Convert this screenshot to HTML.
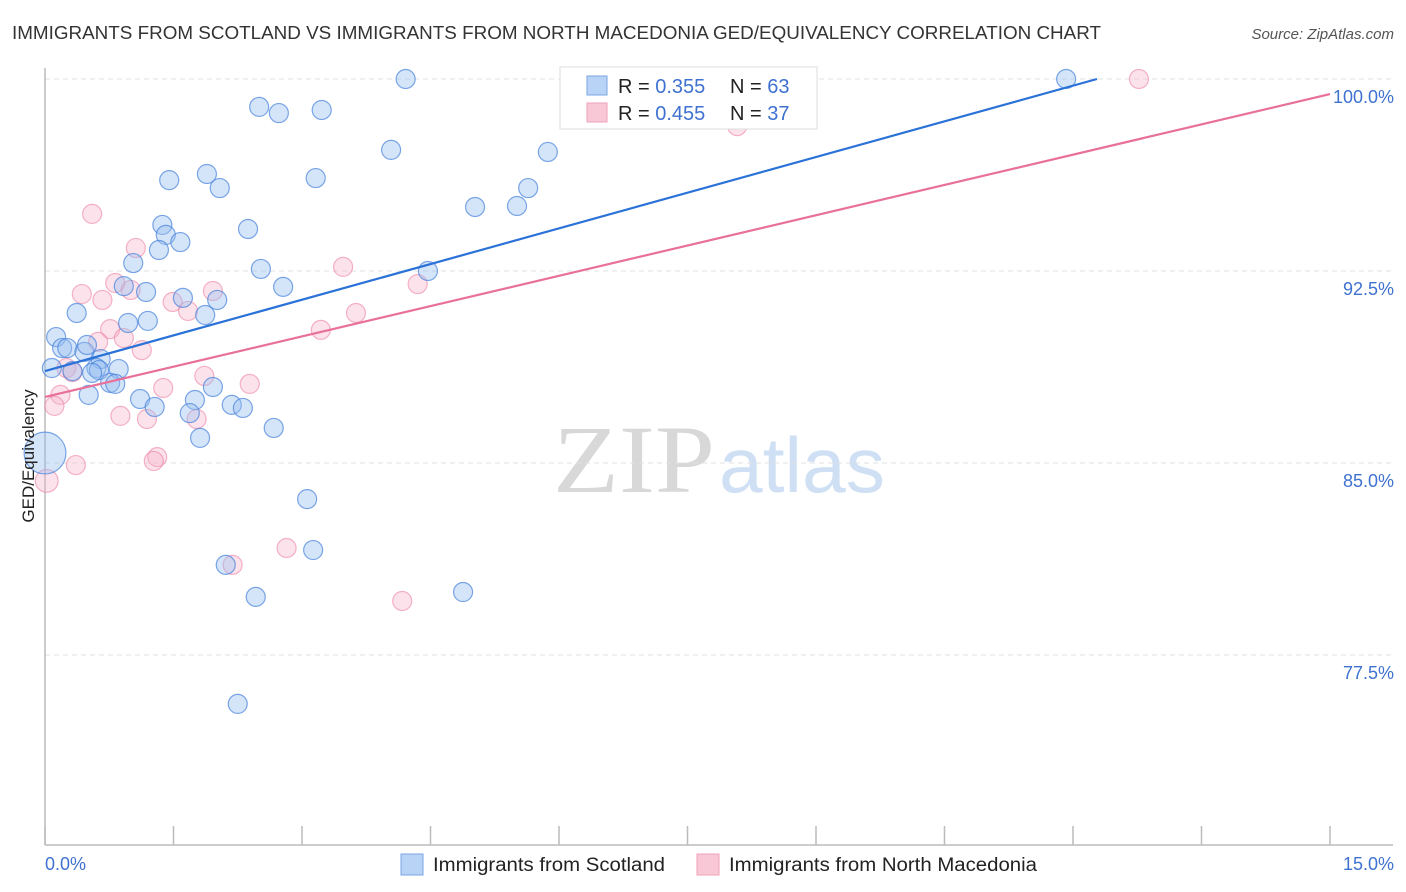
<!DOCTYPE html>
<html><head><meta charset="utf-8">
<style>
body{margin:0;background:#fff;font-family:"Liberation Sans",sans-serif;}
svg{display:block}
</style></head>
<body>
<svg id="chart" width="1406" height="892" xmlns="http://www.w3.org/2000/svg">
<text x="12" y="39" font-size="18" fill="#333" textLength="1089" lengthAdjust="spacingAndGlyphs">IMMIGRANTS FROM SCOTLAND VS IMMIGRANTS FROM NORTH MACEDONIA GED/EQUIVALENCY CORRELATION CHART</text>
<text x="1394" y="39" font-size="15" fill="#555" font-style="italic" text-anchor="end">Source: ZipAtlas.com</text>
<g>
<text x="553" y="492" font-family="Liberation Serif,serif" font-size="96" fill="#d8d8d8" textLength="162" lengthAdjust="spacingAndGlyphs">ZIP</text>
<text x="719" y="492" font-size="78" fill="#cfe0f4" textLength="166" lengthAdjust="spacingAndGlyphs">atlas</text>
</g>
<g id="grid"></g>
<g id="axes"></g>
<g id="marks"></g>
<text transform="translate(34,456) rotate(-90)" font-size="17" fill="#222" text-anchor="middle">GED/Equivalency</text>
<text x="45" y="870" font-size="18" fill="#3f72d0">0.0%</text>
<text x="1394" y="870" font-size="18" fill="#3f72d0" text-anchor="end">15.0%</text>
<g>
<rect x="560" y="67" width="257" height="62" fill="#fff" stroke="#ddd"/>
<rect x="587" y="76" width="20" height="19" fill="#b8d3f5" stroke="#7aa6e3"/>
<rect x="587" y="103" width="20" height="19" fill="#f9c8d6" stroke="#eea2b8"/>
<text x="618" y="93" font-size="20" fill="#222">R = <tspan fill="#3f72d0">0.355</tspan></text>
<text x="730" y="93" font-size="20" fill="#222">N = <tspan fill="#3f72d0">63</tspan></text>
<text x="618" y="120" font-size="20" fill="#222">R = <tspan fill="#3f72d0">0.455</tspan></text>
<text x="730" y="120" font-size="20" fill="#222">N = <tspan fill="#3f72d0">37</tspan></text>
</g>
<g>
<rect x="401" y="854" width="22" height="21" fill="#b8d3f5" stroke="#7aa6e3"/>
<text x="433" y="871" font-size="19" fill="#222" textLength="232" lengthAdjust="spacingAndGlyphs">Immigrants from Scotland</text>
<rect x="697" y="854" width="22" height="21" fill="#f9c8d6" stroke="#eea2b8"/>
<text x="729" y="871" font-size="19" fill="#222" textLength="308" lengthAdjust="spacingAndGlyphs">Immigrants from North Macedonia</text>
</g>
</svg>
<script>
const yTicks=[100,92.5,85,77.5];
const yTickLabels=["100.0%","92.5%","85.0%","77.5%"];
const xTicks=[0,1.5,3,4.5,6,7.5,9,10.5,12,13.5,15];
const scotX=[4.21,11.92,2.50,2.73,3.23,4.04,5.87,3.16,1.45,1.89,2.04,5.64,5.02,5.51,1.37,2.37,1.41,1.58,1.33,1.03,2.52,4.47,2.78,0.92,1.18,1.61,2.01,1.87,0.37,0.97,1.20,0.13,0.20,0.26,0.46,0.49,0.65,0.08,0.32,0.60,0.63,0.86,0.55,0.76,0.82,0.51,1.11,1.75,1.28,1.96,1.69,2.18,2.31,2.67,1.81,0,3.06,3.13,2.11,2.46,4.88,2.25];
const scotY=[100,100,98.91,98.67,98.79,97.23,97.15,96.13,96.05,96.29,95.74,95.74,95.0,95.04,94.30,94.14,93.91,93.63,93.32,92.81,92.58,92.5,91.88,91.91,91.68,91.45,91.37,90.78,90.86,90.47,90.55,89.92,89.49,89.49,89.34,89.61,89.06,88.71,88.59,88.71,88.63,88.67,88.52,88.13,88.09,87.66,87.5,87.46,87.19,87.97,86.95,87.27,87.15,86.37,85.98,85.39,83.59,81.6,81.02,79.77,79.96,75.59];
const scotSize=[1,1,1,1,1,1,1,1,1,1,1,1,1,1,1,1,1,1,1,1,1,1,1,1,1,1,1,1,1,1,1,1,1,1,1,1,1,1,1,1,1,1,1,1,1,1,1,1,1,1,1,1,1,1,1,2.2,1,1,1,1,1,1];
const macX=[12.77,8.08,0.55,1.06,3.48,4.35,0.82,0.43,0.67,1.00,1.96,1.49,1.67,3.63,0.76,3.22,0.92,0.62,1.13,0.25,0.32,1.86,1.38,2.39,0.18,0.11,0.88,1.19,1.77,1.31,1.27,0.36,0.02,2.82,2.19,4.17];
const macY=[100,98.16,94.73,93.40,92.66,91.99,92.03,91.60,91.37,91.76,91.72,91.29,90.94,90.86,90.23,90.20,89.88,89.73,89.41,88.71,88.55,88.40,87.93,88.09,87.66,87.23,86.84,86.72,86.72,85.23,85.08,84.92,84.30,81.68,81.02,79.61];
const macSize=[1,1,1,1,1,1,1,1,1,1,1,1,1,1,1,1,1,1,1,1,1,1,1,1,1,1,1,1,1,1,1,1,1.2,1,1,1];
const scotTrendX=[0,12.28];
const scotTrendY=[88.59,100];
const macTrendX=[0,15];
const macTrendY=[87.58,99.41];

const NS="http://www.w3.org/2000/svg";
const X0=45,X1=1330,Y100=79,PXPER=192/7.5;
function xs(v){return X0+(X1-X0)*v/15;}
function ys(v){return Y100+(100-v)*PXPER;}
function mk(tag,attrs,parent){const e=document.createElementNS(NS,tag);for(const k in attrs)e.setAttribute(k,attrs[k]);parent.appendChild(e);return e;}
const grid=document.getElementById('grid'),axes=document.getElementById('axes'),marks=document.getElementById('marks');
yTicks.forEach((t,i)=>{
 const l=mk('line',{x1:X0,x2:1393,y1:ys(t),y2:ys(t),stroke:'#e2e2e2','stroke-dasharray':'5,4'},grid);
 
 
 const tx=mk('text',{x:1394,y:ys(t)+24,'font-size':18,fill:'#3f72d0','text-anchor':'end'},grid);
 tx.textContent=yTickLabels[i];
 
 
});
const xa=mk('line',{x1:X0,x2:1393,y1:845,y2:845,stroke:'#bbb','stroke-width':1.5},axes);


const ya=mk('line',{x1:X0,x2:X0,y1:68,y2:845,stroke:'#bbb','stroke-width':1.5},axes);


xTicks.forEach(t=>{
 const l=mk('line',{x1:xs(t),x2:xs(t),y1:826,y2:845,stroke:'#bbb','stroke-width':1.5},axes);
 
 
});
function dots(X,Y,S,fill,stroke,name){
 X.forEach((x,i)=>{
  const c=mk('circle',{cx:xs(x),cy:ys(Y[i]),r:9.5*S[i],fill:fill,stroke:stroke,'stroke-width':1.2},marks);
  
  
 });
}
dots(macX,macY,macSize,'rgba(246,175,198,0.35)','rgba(236,130,163,0.6)','macedonia-point');
dots(scotX,scotY,scotSize,'rgba(150,190,240,0.4)','rgba(70,130,220,0.7)','scotland-point');
const tl1=mk('line',{x1:xs(scotTrendX[0]),y1:ys(scotTrendY[0]),x2:xs(scotTrendX[1]),y2:ys(scotTrendY[1]),stroke:'#2a72d8','stroke-width':2.2},marks);


const tl2=mk('line',{x1:xs(macTrendX[0]),y1:ys(macTrendY[0]),x2:xs(macTrendX[1]),y2:ys(macTrendY[1]),stroke:'#e8709a','stroke-width':2.2},marks);


</script>
</body></html>
